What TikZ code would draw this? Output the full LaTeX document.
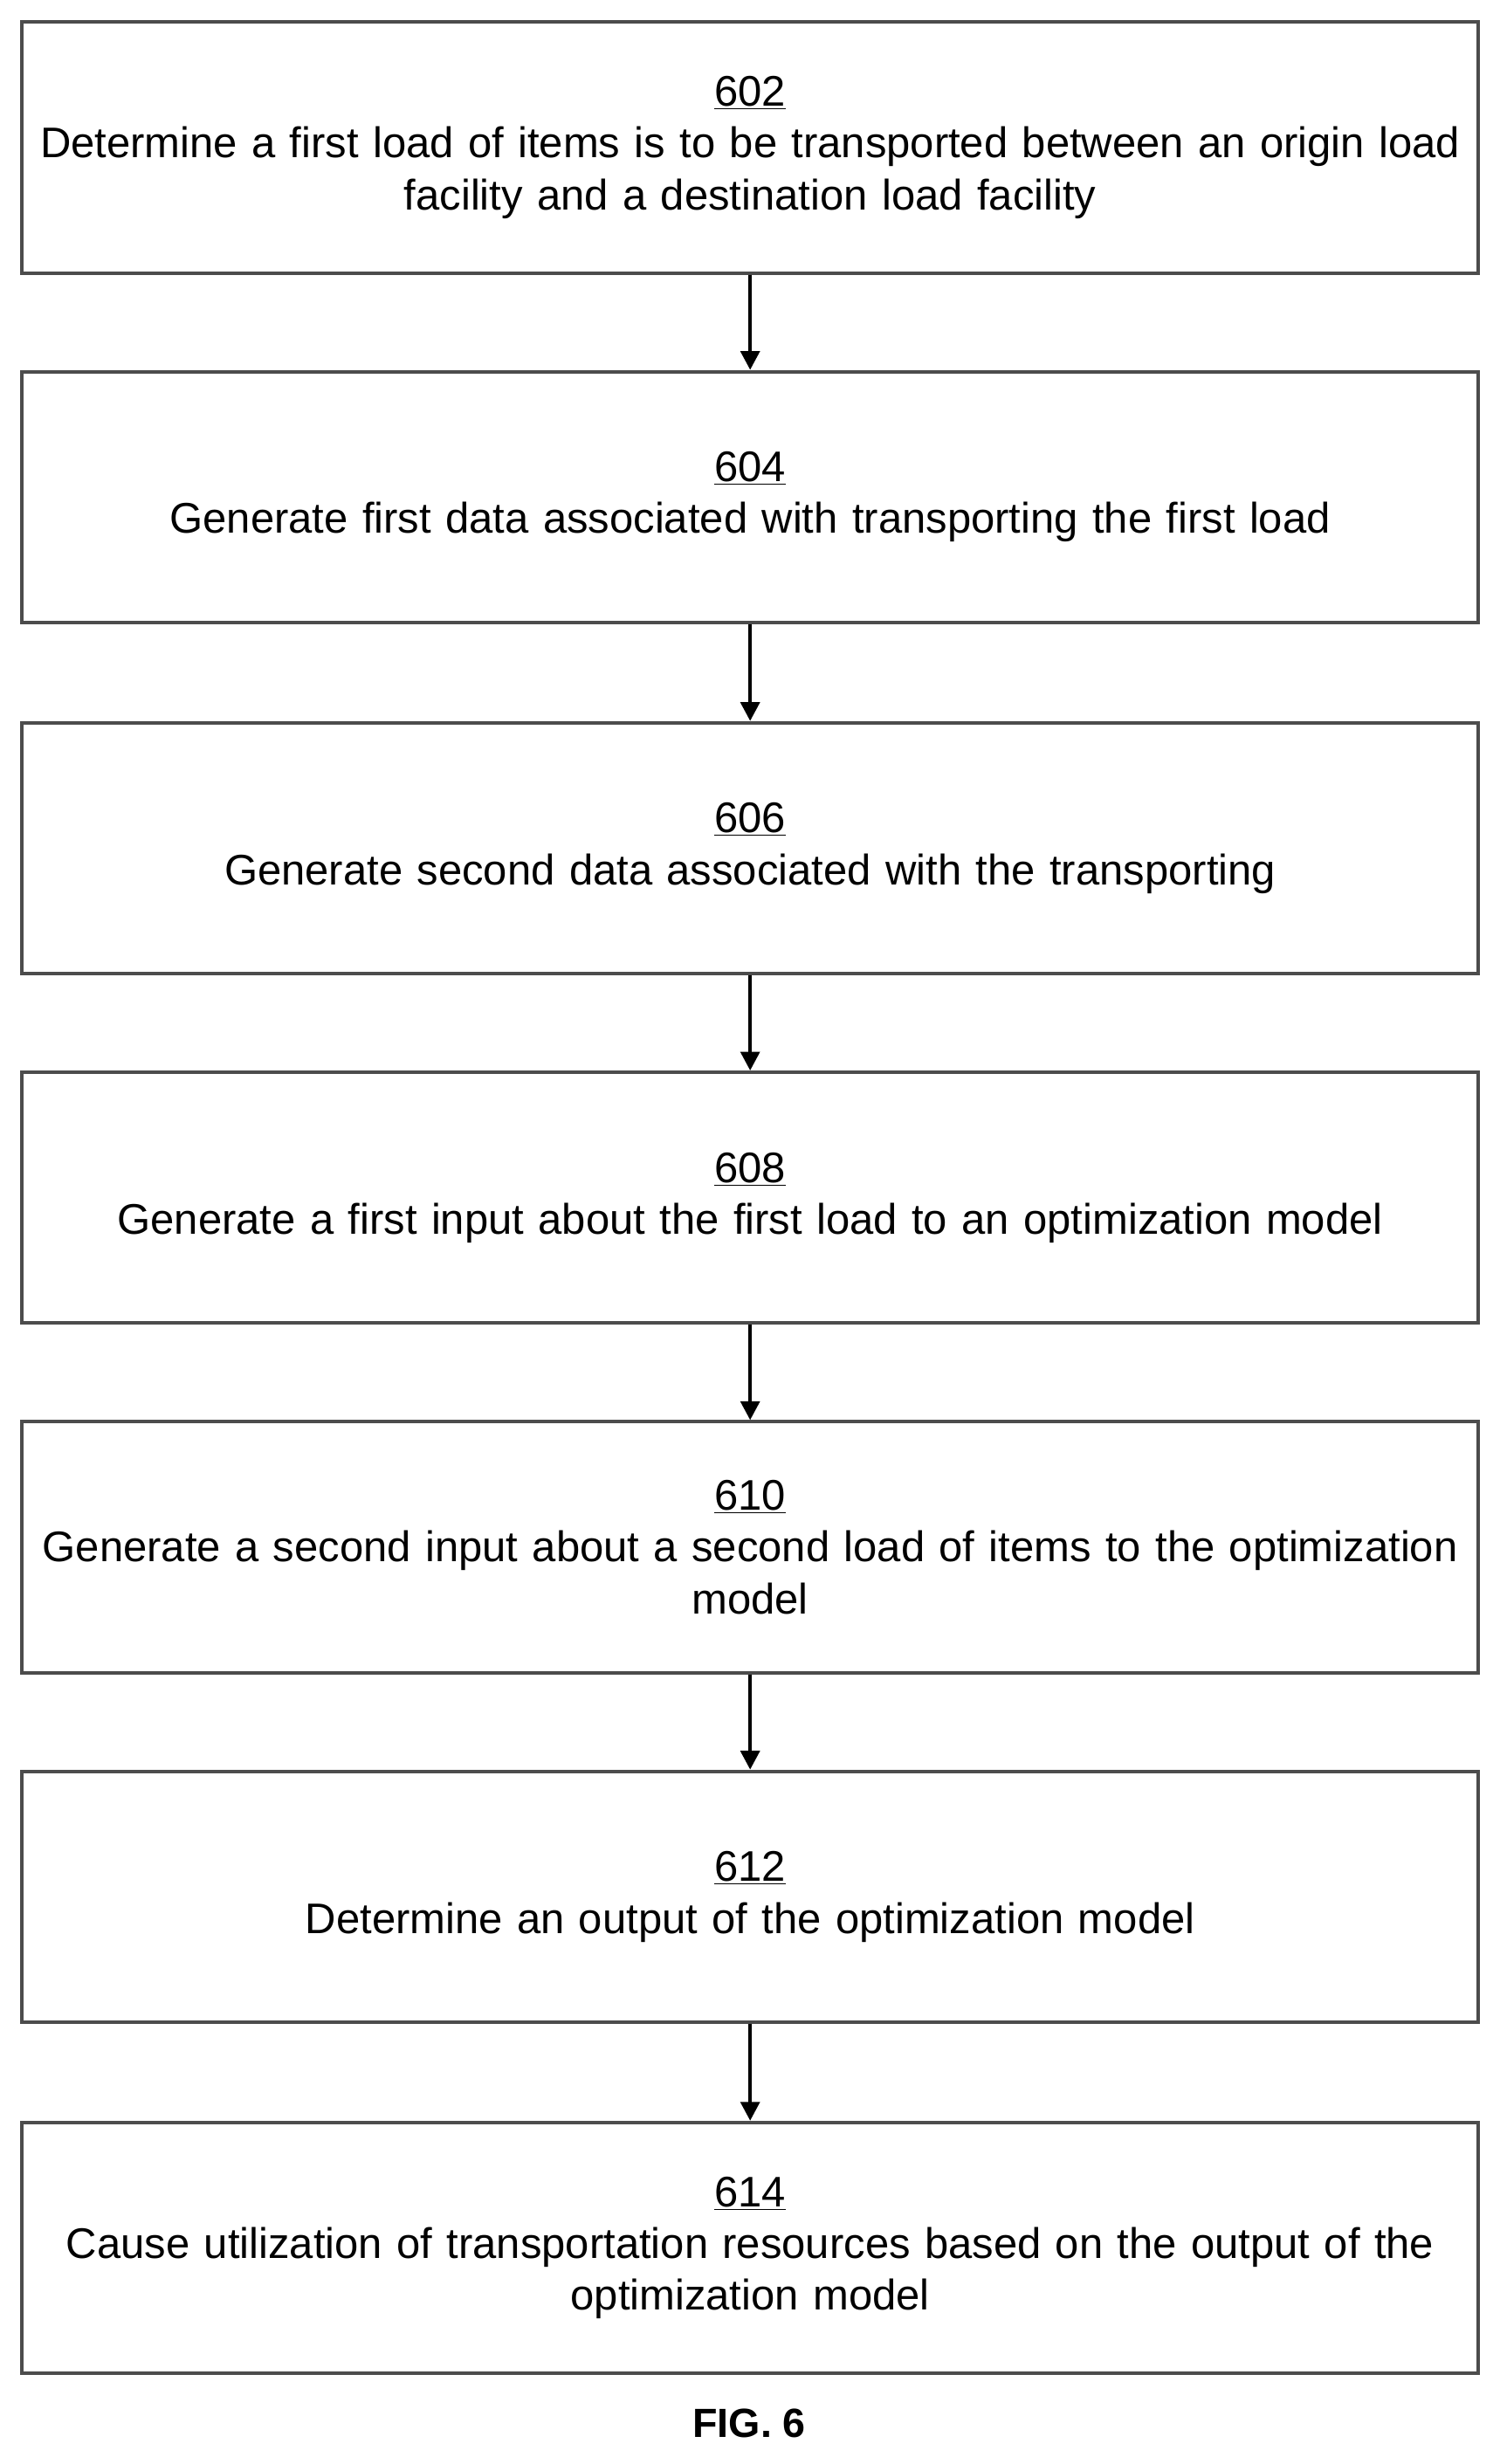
\documentclass[tikz,border=0pt]{standalone}
\usepackage{fontspec}
\setmainfont{Liberation Sans}
\usetikzlibrary{arrows.meta}
\begin{document}
\begin{tikzpicture}[x=1pt,y=-1pt,
 box/.style={draw=black!70,line width=2.2pt,minimum width=929pt,minimum height=160pt,text width=925pt,align=center,inner sep=0pt,font=\fontsize{27.3}{33}\selectfont,anchor=north west},
 arr/.style={-{Triangle[length=12pt,width=12pt]},line width=2.5pt}]
\useasboundingbox (0,0) rectangle (957,1572);
\node[box] (b1) at (13,13) {\underline{602}\\Determine a first load of items is to be transported between an origin load\\facility and a destination load facility};
\node[box] (b2) at (13,236) {\underline{604}\\Generate first data associated with transporting the first load};
\node[box] (b3) at (13,460) {\underline{606}\\Generate second data associated with the transporting};
\node[box] (b4) at (13,683) {\underline{608}\\Generate a first input about the first load to an optimization model};
\node[box] (b5) at (13,906) {\underline{610}\\Generate a second input about a second load of items to the optimization\\model};
\node[box] (b6) at (13,1129) {\underline{612}\\Determine an output of the optimization model};
\node[box] (b7) at (13,1353) {\underline{614}\\Cause utilization of transportation resources based on the output of the\\optimization model};
\foreach \a/\b in {b1/b2,b2/b3,b3/b4,b4/b5,b5/b6,b6/b7} \draw[arr] (\a.south) -- (\b.north);
\node[font=\bfseries\fontsize{26}{28}\selectfont] (fig) at (478,1546) {FIG. 6};
\end{tikzpicture}
\end{document}
